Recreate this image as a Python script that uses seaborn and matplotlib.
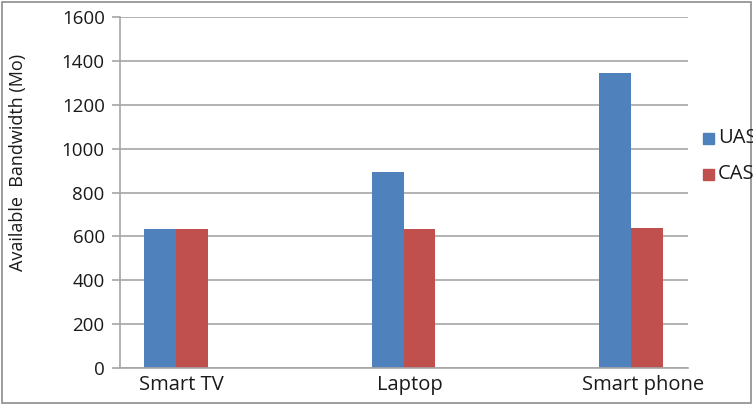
import matplotlib
matplotlib.use("Agg")
import matplotlib.pyplot as plt
import matplotlib.transforms as mtransforms
import seaborn as sns
import pandas as pd

devices = ["Smart TV", "Laptop", "Smart phone"]
uas = [634, 894, 1345]
cas = [634, 634, 639]
series = ["UAS", "CAS"]
colors = ["#4F81BD", "#C0504D"]

df = pd.DataFrame({
    "device": devices * 2,
    "scheme": ["UAS"] * 3 + ["CAS"] * 3,
    "bandwidth": uas + cas,
})

sns.set_theme(style="white")
plt.rcParams["font.family"] = ["Open Sans", "DejaVu Sans"]

fig = plt.figure(figsize=(7.53, 4.05), dpi=100)
W, H = 753, 405
ax = fig.add_axes([120 / W, 1 - 368 / H, (688 - 120) / W, (368 - 17) / H])

sns.barplot(data=df, x="device", y="bandwidth", hue="scheme",
            hue_order=series, palette=colors, width=0.28, gap=0,
            saturation=1, ax=ax, legend=False, linewidth=0)

ax.set_ylim(0, 1600)
ax.set_yticks(range(0, 1601, 200))
ax.set_xlim((120 - 176) / 227.5, (688 - 176) / 227.5)
ax.grid(axis="y", color="#A6A6A6", linewidth=1.2)
ax.set_axisbelow(True)
for s in ["top", "right"]:
    ax.spines[s].set_visible(False)
for s in ["left", "bottom"]:
    ax.spines[s].set_color("#A6A6A6")
    ax.spines[s].set_linewidth(1.2)
ax.tick_params(axis="y", length=6, width=1.2, color="#A6A6A6", labelsize=13.5,
               pad=5, left=True)
ax.tick_params(axis="x", length=0, labelsize=14.5, pad=5)
ax.set_xlabel("")
ax.set_ylabel("")
fig.text(18 / W, 1 - 162 / H, "Available  Bandwidth (Mo)", rotation=90,
         ha="center", va="center", fontsize=13, color="#1A1A1A")

# Category labels sit a little right of their bar groups
shifts = [5, 6, 12]
for t, dx in zip(ax.get_xticklabels(), shifts):
    t.set_transform(t.get_transform() +
                    mtransforms.ScaledTranslation(dx / 100, 0, fig.dpi_scale_trans))
for t in ax.get_xticklabels() + ax.get_yticklabels():
    t.set_color("#1A1A1A")

# Legend on the right, partly running off the figure edge
for i, (name, c) in enumerate(zip(series, colors)):
    y = 1 - (138 + 36 * i) / H
    fig.patches.append(plt.Rectangle((703 / W, y - 5.5 / H), 11 / W, 11 / H,
                                     transform=fig.transFigure, color=c,
                                     figure=fig))
    fig.text(718 / W, y, name, ha="left", va="center", fontsize=14.5,
             color="#1A1A1A")

# Outer chart frame
fig.patches.append(plt.Rectangle((2 / W, 2 / H), 1 - 4 / W, 1 - 4 / H,
                                 transform=fig.transFigure, fill=False,
                                 edgecolor="#8C8C8C", linewidth=1.2,
                                 figure=fig))

fig.savefig("out.png", dpi=100)
